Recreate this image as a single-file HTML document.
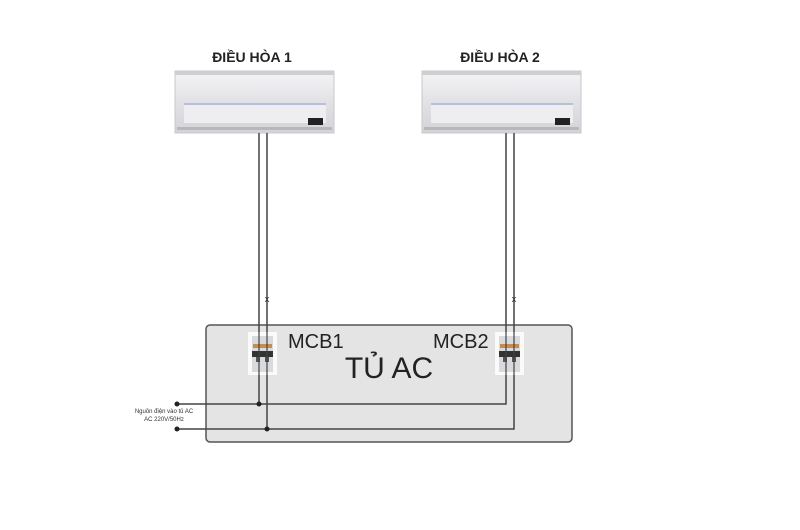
<!DOCTYPE html>
<html><head><meta charset="utf-8"><style>
html,body{margin:0;padding:0;background:#fff}
svg{display:block}
text{font-family:"Liberation Sans",sans-serif}
</style></head><body>
<svg width="800" height="530" viewBox="0 0 800 530">
<defs>
<linearGradient id="ac" x1="0" y1="0" x2="0" y2="1">
<stop offset="0" stop-color="#f4f4f6"/><stop offset="0.5" stop-color="#e2e2e6"/><stop offset="1" stop-color="#d4d4d8"/>
</linearGradient>
</defs>
<text x="252" y="62" font-size="14" font-weight="bold" text-anchor="middle" fill="#222">ĐIỀU HÒA 1</text>
<text x="500" y="62" font-size="14" font-weight="bold" text-anchor="middle" fill="#222">ĐIỀU HÒA 2</text>

<g id="u1">
<rect x="175" y="71" width="159" height="62" fill="url(#ac)" stroke="#c8c8c8"/>
<rect x="175" y="71" width="159" height="4" fill="#cfcfd2"/>
<line x1="184" y1="104" x2="326" y2="104" stroke="#aab4d8" stroke-width="1.5"/>
<rect x="184" y="105" width="142" height="18" fill="#eeeef0"/>
<rect x="308" y="118" width="15" height="7" fill="#222"/>
<rect x="177" y="127" width="155" height="3" fill="#b8b8bc"/>
</g>
<g transform="translate(247,0)">
<rect x="175" y="71" width="159" height="62" fill="url(#ac)" stroke="#c8c8c8"/>
<rect x="175" y="71" width="159" height="4" fill="#cfcfd2"/>
<line x1="184" y1="104" x2="326" y2="104" stroke="#aab4d8" stroke-width="1.5"/>
<rect x="184" y="105" width="142" height="18" fill="#eeeef0"/>
<rect x="308" y="118" width="15" height="7" fill="#222"/>
<rect x="177" y="127" width="155" height="3" fill="#b8b8bc"/>
</g>

<rect x="206" y="325" width="366" height="117" rx="4" fill="#e4e4e4" stroke="#555" stroke-width="1.5"/>

<g stroke="#444" stroke-width="1.5" fill="none">
<polyline points="259,133 259,404 177,404"/>
<polyline points="267,133 267,429 177,429"/>
<polyline points="506,133 506,404 259,404"/>
<polyline points="514,133 514,429 267,429"/>
</g>
<g fill="#222">
<circle cx="177" cy="404" r="2.5"/><circle cx="177" cy="429" r="2.5"/>
<circle cx="259" cy="404" r="2.5"/><circle cx="267" cy="429" r="2.5"/>
</g>
<text x="267" y="302" font-size="9" text-anchor="middle" fill="#333">x</text>
<text x="514" y="302" font-size="9" text-anchor="middle" fill="#333">x</text>

<g id="m1">
<rect x="248" y="332" width="29" height="43" fill="#fafafa"/>
<rect x="252" y="336" width="21" height="36" fill="#d8dadd"/>
<rect x="253" y="344" width="19" height="4" fill="#c98a4a"/>
<rect x="252" y="351" width="21" height="6" fill="#333"/>
<rect x="256" y="357" width="4" height="5" fill="#555"/><rect x="265" y="357" width="4" height="5" fill="#555"/>
<line x1="259" y1="332" x2="259" y2="375" stroke="#444" stroke-width="1.2"/>
<line x1="267" y1="332" x2="267" y2="375" stroke="#444" stroke-width="1.2"/>
</g>
<g transform="translate(247,0)">
<rect x="248" y="332" width="29" height="43" fill="#fafafa"/>
<rect x="252" y="336" width="21" height="36" fill="#d8dadd"/>
<rect x="253" y="344" width="19" height="4" fill="#c98a4a"/>
<rect x="252" y="351" width="21" height="6" fill="#333"/>
<rect x="256" y="357" width="4" height="5" fill="#555"/><rect x="265" y="357" width="4" height="5" fill="#555"/>
<line x1="259" y1="332" x2="259" y2="375" stroke="#444" stroke-width="1.2"/>
<line x1="267" y1="332" x2="267" y2="375" stroke="#444" stroke-width="1.2"/>
</g>

<text x="288" y="348" font-size="20" fill="#222">MCB1</text>
<text x="433" y="348" font-size="20" fill="#222">MCB2</text>
<text x="389" y="378" font-size="30" text-anchor="middle" fill="#222">TỦ AC</text>

<text x="164" y="413" font-size="6" text-anchor="middle" fill="#333">Nguồn điện vào tủ AC</text>
<text x="164" y="421" font-size="6" text-anchor="middle" fill="#333">AC 220V/50Hz</text>
</svg>
</body></html>
